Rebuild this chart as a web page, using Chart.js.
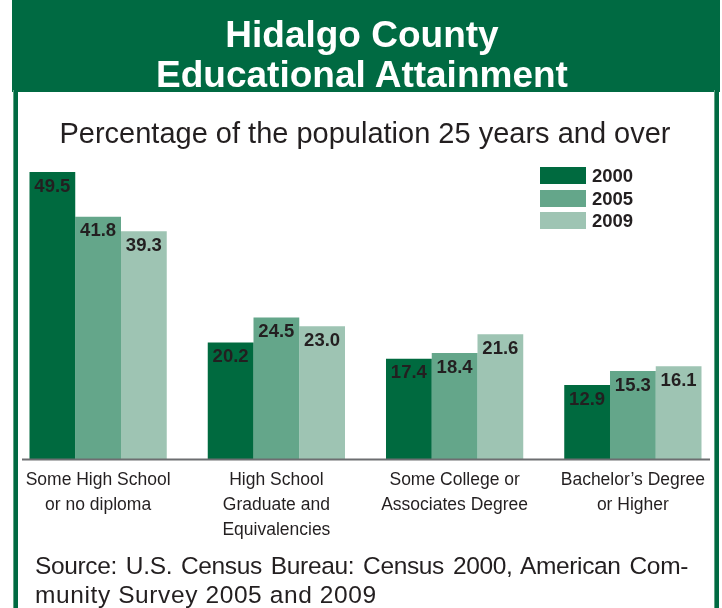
<!DOCTYPE html>
<html>
<head>
<meta charset="utf-8">
<script src="https://cdn.jsdelivr.net/npm/chart.js@4"></script>
<style>
  body { margin: 0; background: #fff; }
  #wrap { position: relative; width: 722px; height: 608px; overflow: hidden; font-family: 'Liberation Sans', Arial, sans-serif; color: #231f20; }
  #chart { position: absolute; left: 0; top: 0; }
  .header { position: absolute; left: 12px; top: 0; width: 708px; height: 92px; background: #006a42; }
  .title { position: absolute; left: 0; top: 15px; width: 724px; text-align: center; color: #fff; font-weight: bold; font-size: 37px; line-height: 40px; }
  .border-l { position: absolute; left: 13px; top: 90px; width: 5px; height: 518px; background: #006a42; border-left: 1px solid #5fa484; box-sizing: border-box; }
  .border-r { position: absolute; left: 714px; top: 90px; width: 5px; height: 518px; background: #006a42; border-left: 1px solid #5fa484; box-sizing: border-box; }
  .subtitle { position: absolute; left: 0; top: 119px; width: 730px; text-align: center; font-size: 29px; line-height: 29px; }
  .legend { position: absolute; left: 540px; top: 167px; }
  .legend div { height: 22.5px; display: flex; align-items: flex-start; }
  .legend span.sw { display: inline-block; width: 46px; height: 17px; }
  .legend span.tx { font-weight: bold; font-size: 18.5px; line-height: 17px; margin-left: 6px; }
  .source { position: absolute; left: 35px; width: 653px; font-size: 24.5px; line-height: 29px; }
  .just { text-align: justify; text-align-last: justify; letter-spacing: -0.35px; }
</style>
</head>
<body>
<div id="wrap">
  <canvas id="chart" width="722" height="608"></canvas>
  <div class="header"></div>
  <div class="title">Hidalgo County<br>Educational Attainment</div>
  <div class="border-l"></div>
  <div class="border-r"></div>
  <div class="subtitle">Percentage of the population 25 years and over</div>
  <div class="legend" id="legend"></div>
  <div class="source just" style="top:551px">Source: U.S. Census Bureau: Census 2000, American Com-</div>
  <div class="source" style="top:580px; letter-spacing:0.6px">munity Survey 2005 and 2009</div>
</div>
<script>
const categories = [
    ['Some High School', 'or no diploma'],
    ['High School', 'Graduate and', 'Equivalencies'],
    ['Some College or', 'Associates Degree'],
    ['Bachelor\u2019s Degree', 'or Higher']
];
const years = ['2000', '2005', '2009'];
const values2000 = [49.5, 20.2, 17.4, 12.9];
const values2005 = [41.8, 24.5, 18.4, 15.3];
const values2009 = [39.3, 23.0, 21.6, 16.1];
const colors = ['#006a3f', '#64a68a', '#9ec4b3'];

const fontFamily = "'Liberation Sans', Arial, sans-serif";

window.addEventListener('load', () => {
    buildChart();
    buildLegend();
});

function buildLegend() {
    const box = document.getElementById('legend');
    years.forEach((y, i) => {
        const row = document.createElement('div');
        row.innerHTML = '<span class="sw" style="background:' + colors[i] + '"></span><span class="tx">' + y + '</span>';
        box.appendChild(row);
    });
}

const valueLabels = {
    id: 'valueLabels',
    afterDatasetsDraw(chart) {
        const ctx = chart.ctx;
        const yScale = chart.scales.y;
        const base = yScale.getPixelForValue(0);
        // baseline rule
        ctx.save();
        ctx.strokeStyle = '#6d6e71';
        ctx.lineWidth = 2;
        ctx.beginPath();
        ctx.moveTo(chart.chartArea.left + 13, base - 0.5);
        ctx.lineTo(chart.chartArea.right - 12, base - 0.5);
        ctx.stroke();

        ctx.fillStyle = '#231f20';
        ctx.font = 'bold 18.5px ' + fontFamily;
        ctx.textAlign = 'center';
        ctx.textBaseline = 'middle';
        chart.data.datasets.forEach((ds, i) => {
            chart.getDatasetMeta(i).data.forEach((bar, j) => {
                ctx.fillText(ds.data[j].toFixed(1), bar.x, bar.y + 14.5);
            });
        });
        ctx.restore();
    }
};

function buildChart() {
    const ctx = document.getElementById('chart').getContext('2d');
    new Chart(ctx, {
        type: 'bar',
        data: {
            labels: categories,
            datasets: [
                { label: years[0], data: values2000, backgroundColor: colors[0] },
                { label: years[1], data: values2005, backgroundColor: colors[1] },
                { label: years[2], data: values2009, backgroundColor: colors[2] }
            ]
        },
        options: {
            responsive: false,
            devicePixelRatio: 1,
            animation: false,
            categoryPercentage: 0.77,
            barPercentage: 1,
            layout: { padding: { top: 169, left: 9, right: 0, bottom: 0 } },
            plugins: {
                legend: { display: false },
                tooltip: { enabled: false }
            },
            scales: {
                x: {
                    grid: { display: false, drawTicks: false },
                    border: { display: false },
                    ticks: {
                        color: '#231f20',
                        padding: 8,
                        maxRotation: 0,
                        autoSkip: false,
                        font: { family: fontFamily, size: 17.5, lineHeight: 25 / 17.5 }
                    },
                    afterFit(scale) { scale.height = 148; }
                },
                y: {
                    display: false,
                    min: 0,
                    max: 50
                }
            }
        },
        plugins: [valueLabels]
    });
}
</script>
</body>
</html>
